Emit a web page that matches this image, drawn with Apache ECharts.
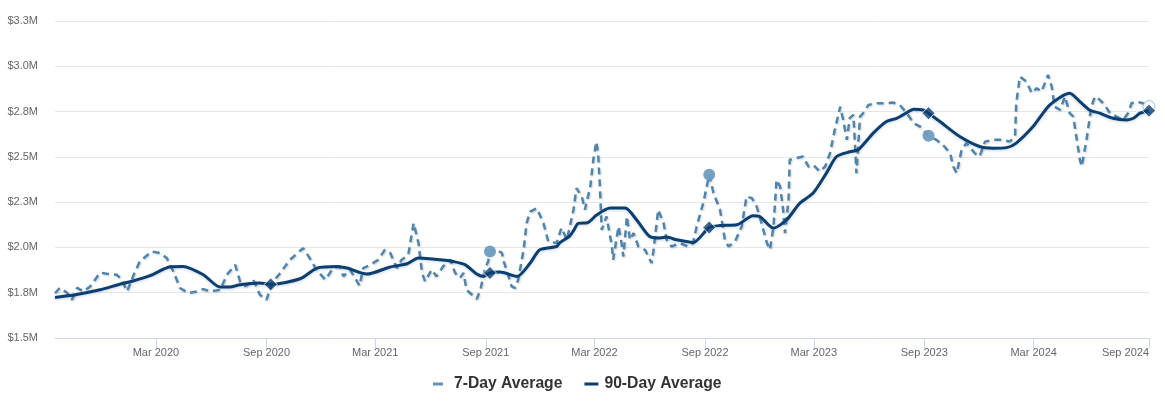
<!DOCTYPE html>
<html><head><meta charset="utf-8">
<script src="https://cdn.jsdelivr.net/npm/echarts@6.0.0/dist/echarts.min.js"></script>
<style>html,body{margin:0;padding:0;background:#fff}#chart{width:1165px;height:406px}</style>
</head><body><div id="chart"></div>
<script>
// 90-Day Average (in $ millions)
const dates90 = ['2019-09-15','2019-10-19','2019-11-29','2019-12-29','2020-01-24','2020-02-20','2020-03-25','2020-04-15','2020-05-19','2020-06-16','2020-07-02','2020-07-19','2020-08-21','2020-09-08','2020-10-27','2020-11-24','2020-12-27','2021-01-13','2021-02-15','2021-03-26','2021-04-23','2021-05-12','2021-06-17','2021-07-09','2021-07-29','2021-08-17','2021-08-28','2021-09-08','2021-09-25','2021-10-23','2021-11-14','2021-11-30','2021-12-28','2022-01-02','2022-01-19','2022-01-26','2022-02-02','2022-02-17','2022-03-05','2022-03-27','2022-04-21','2022-05-10','2022-06-01','2022-06-18','2022-06-29','2022-07-16','2022-08-12','2022-09-08','2022-09-26','2022-10-24','2022-11-20','2022-12-01','2022-12-24','2023-01-15','2023-02-06','2023-02-28','2023-03-22','2023-04-08','2023-04-30','2023-05-14','2023-06-08','2023-06-30','2023-07-17','2023-08-03','2023-08-14','2023-08-30','2023-09-08','2023-09-27','2023-10-30','2023-12-02','2023-12-25','2024-01-16','2024-02-01','2024-02-29','2024-03-28','2024-04-30','2024-05-17','2024-06-02','2024-06-19','2024-07-11','2024-08-03','2024-08-14','2024-08-25','2024-09-09'];
const values90 = [1.724,1.739,1.766,1.794,1.816,1.844,1.893,1.895,1.849,1.781,1.781,1.794,1.803,1.796,1.827,1.886,1.895,1.886,1.853,1.892,1.910,1.941,1.932,1.922,1.904,1.853,1.840,1.859,1.864,1.840,1.914,1.987,2.005,2.025,2.064,2.097,2.133,2.136,2.180,2.217,2.217,2.153,2.060,2.052,2.057,2.042,2.027,2.110,2.121,2.125,2.175,2.171,2.107,2.153,2.245,2.300,2.410,2.502,2.528,2.539,2.631,2.695,2.713,2.744,2.763,2.759,2.741,2.695,2.612,2.557,2.548,2.551,2.576,2.667,2.787,2.851,2.805,2.759,2.741,2.713,2.704,2.713,2.741,2.755];

// 7-Day Average (in $ millions)
const dates7 = ['2019-09-15','2019-09-23','2019-10-05','2019-10-13','2019-10-22','2019-11-01','2019-11-12','2019-11-29','2019-12-10','2019-12-27','2020-01-04','2020-01-13','2020-01-24','2020-02-03','2020-02-23','2020-03-08','2020-03-19','2020-03-30','2020-04-10','2020-04-24','2020-05-08','2020-05-19','2020-05-30','2020-06-16','2020-06-27','2020-07-11','2020-07-19','2020-07-28','2020-08-10','2020-08-21','2020-09-01','2020-09-10','2020-09-24','2020-10-10','2020-11-01','2020-11-12','2020-11-23','2020-12-08','2020-12-21','2021-01-01','2021-01-07','2021-01-18','2021-02-03','2021-02-09','2021-02-21','2021-03-06','2021-03-17','2021-03-26','2021-04-06','2021-04-14','2021-04-25','2021-05-04','2021-05-12','2021-05-18','2021-05-23','2021-06-03','2021-06-11','2021-06-22','2021-07-04','2021-07-12','2021-07-20','2021-07-26','2021-07-31','2021-08-09','2021-08-17','2021-08-23','2021-08-31','2021-09-05','2021-09-08','2021-09-19','2021-09-28','2021-10-01','2021-10-09','2021-10-14','2021-10-20','2021-10-25','2021-11-03','2021-11-08','2021-11-14','2021-11-25','2021-12-06','2021-12-14','2021-12-28','2022-01-05','2022-01-14','2022-01-25','2022-01-30','2022-02-08','2022-02-13','2022-02-22','2022-02-27','2022-03-04','2022-03-07','2022-03-10','2022-03-13','2022-03-21','2022-03-30','2022-04-01','2022-04-10','2022-04-15','2022-04-18','2022-04-24','2022-04-29','2022-05-05','2022-05-13','2022-05-24','2022-06-04','2022-06-07','2022-06-15','2022-06-24','2022-06-29','2022-07-07','2022-07-21','2022-08-04','2022-08-12','2022-08-18','2022-08-29','2022-09-08','2022-09-15','2022-09-26','2022-10-04','2022-10-10','2022-10-21','2022-11-01','2022-11-09','2022-11-18','2022-11-26','2022-12-04','2022-12-13','2022-12-18','2022-12-24','2022-12-29','2023-01-04','2023-01-09','2023-01-12','2023-01-18','2023-01-20','2023-01-31','2023-02-11','2023-02-20','2023-02-28','2023-03-11','2023-03-20','2023-03-28','2023-04-05','2023-04-14','2023-04-19','2023-04-25','2023-04-30','2023-05-06','2023-05-11','2023-05-17','2023-05-22','2023-05-31','2023-06-14','2023-06-30','2023-07-11','2023-07-22','2023-08-03','2023-08-14','2023-08-25','2023-09-08','2023-09-21','2023-10-02','2023-10-14','2023-10-19','2023-10-25','2023-11-02','2023-11-10','2023-11-24','2023-12-02','2023-12-11','2023-12-25','2024-01-10','2024-01-21','2024-01-30','2024-02-01','2024-02-07','2024-02-18','2024-02-27','2024-03-06','2024-03-14','2024-03-25','2024-03-31','2024-04-05','2024-04-14','2024-04-22','2024-04-30','2024-05-06','2024-05-11','2024-05-17','2024-05-20','2024-05-28','2024-06-05','2024-06-11','2024-06-19','2024-06-27','2024-07-06','2024-07-17','2024-07-28','2024-08-05','2024-08-11','2024-08-19','2024-08-30','2024-09-09'];
const values7 = [1.747,1.777,1.750,1.711,1.777,1.757,1.783,1.860,1.855,1.849,1.822,1.757,1.849,1.922,1.978,1.969,1.941,1.867,1.776,1.748,1.757,1.770,1.757,1.766,1.849,1.904,1.812,1.785,1.822,1.739,1.711,1.803,1.859,1.932,1.996,1.941,1.877,1.822,1.886,1.895,1.840,1.877,1.788,1.886,1.904,1.932,1.987,1.969,1.886,1.932,1.959,2.134,2.024,1.859,1.812,1.877,1.840,1.895,1.932,1.859,1.831,1.859,1.766,1.739,1.715,1.766,1.886,1.922,1.978,1.987,1.969,1.922,1.840,1.785,1.776,1.822,1.987,2.134,2.198,2.217,2.134,2.033,2.024,2.108,2.042,2.208,2.327,2.281,2.208,2.336,2.483,2.584,2.520,2.336,2.097,2.171,2.005,1.932,2.116,2.024,1.950,2.171,2.042,2.079,2.005,1.987,1.914,1.978,2.208,2.134,2.042,2.005,2.024,2.005,2.024,2.116,2.245,2.401,2.300,2.208,2.042,2.005,2.033,2.116,2.281,2.272,2.226,2.134,2.024,1.987,2.116,2.373,2.336,2.208,2.079,2.263,2.484,2.493,2.502,2.447,2.456,2.419,2.447,2.520,2.649,2.777,2.704,2.594,2.715,2.732,2.410,2.722,2.741,2.787,2.796,2.796,2.800,2.787,2.741,2.686,2.667,2.616,2.594,2.566,2.520,2.447,2.410,2.539,2.576,2.520,2.502,2.584,2.594,2.594,2.584,2.612,2.796,2.943,2.915,2.851,2.879,2.860,2.952,2.888,2.777,2.759,2.833,2.741,2.722,2.612,2.483,2.447,2.594,2.777,2.833,2.815,2.787,2.741,2.722,2.704,2.741,2.796,2.805,2.796,2.777];

// highlighted points
const diamondDates = ['2020-09-08','2021-09-08','2022-09-08','2023-09-08','2024-09-09'];
const circleDates = ['2021-09-08','2022-09-08','2023-09-08'];
const lastCircleDate = '2024-09-09';

// axes
const xMinDate = '2019-09-15';
const xMaxDate = '2024-09-09';
const xTickDates = ['2020-03-01','2020-09-01','2021-03-01','2021-09-01','2022-03-01','2022-09-01','2023-03-01','2023-09-01','2024-03-01','2024-09-09'];
const xTickLabels = ['Mar 2020','Sep 2020','Mar 2021','Sep 2021','Mar 2022','Sep 2022','Mar 2023','Sep 2023','Mar 2024','Sep 2024'];
const yMin = 1.5, yMax = 3.25, yStep = 0.25;
const yTickLabels = ['$1.5M','$1.8M','$2.0M','$2.3M','$2.5M','$2.8M','$3.0M','$3.3M'];

function ts(s){const p=s.split('-').map(Number);return Date.UTC(p[0],p[1]-1,p[2]);}
const xTickVals = xTickDates.map(ts);
const pts = (ds, vs) => ds.map((d,i)=>[ts(d), vs[i]]);
const pick = (list, ds, vs) => list.map(d=>[ts(d), vs[ds.indexOf(d)]]);

const FONT = "'Liberation Sans', Arial, sans-serif";
const C7 = '#4f85ad', C90 = '#0c3f70', CIRC = '#6f9cc0';
// legend glyphs: short dash for the 7-day, longer bar for the 90-day (16x3 box)
const ICON7 = 'path://M0,0h0.05v0.05h-0.05z M16,3h-0.05v-0.05h0.05z M0,0h10v3h-10z';
const ICON90 = 'path://M0,0h0.05v0.05h-0.05z M16,3h-0.05v-0.05h0.05z M1,0h14v3h-14z';

const chart = echarts.init(document.getElementById('chart'), null, {renderer:'canvas'});
chart.setOption({
  animation:false,
  backgroundColor:'#ffffff',
  grid:{left:55, right:16, top:21, bottom:68, containLabel:false},
  legend:{
    data:[{name:'7-Day Average', icon:ICON7, itemStyle:{color:'#6294ba'}},{name:'90-Day Average', icon:ICON90}],
    left:428, top:371, itemGap:21, itemWidth:16, itemHeight:3,
    textStyle:{fontFamily:FONT, fontSize:15.7, fontWeight:'bold', color:'#333333'}
  },
  xAxis:{
    type:'value', min:ts(xMinDate), max:ts(xMaxDate), scale:true,
    axisLine:{show:true, lineStyle:{color:'#ccd6eb', width:1}},
    axisTick:{show:true, length:10, lineStyle:{color:'#ccd6eb'}, customValues:xTickVals},
    axisLabel:{
      customValues:xTickVals,
      formatter:(v)=>{let k=0,b=Infinity;xTickVals.forEach((t,i)=>{const dd=Math.abs(t-v);if(dd<b){b=dd;k=i;}});return xTickLabels[k];},
      color:'#666666', fontSize:11, fontFamily:FONT, margin:9, alignMaxLabel:'right'
    },
    splitLine:{show:false}
  },
  yAxis:{
    type:'value', min:yMin, max:yMax, interval:yStep,
    axisLine:{show:false}, axisTick:{show:false},
    axisLabel:{formatter:(v)=>yTickLabels[Math.round((v-yMin)/yStep)], color:'#666666', fontSize:11, fontFamily:FONT, margin:17},
    splitLine:{lineStyle:{color:'#e6e6e6', width:1}}
  },
  series:[
    {name:'7-Day Average', type:'line', data:pts(dates7, values7), symbol:'none', z:2,
     itemStyle:{color:C7},
     lineStyle:{color:C7, width:2.5, type:[7,5], shadowColor:'rgba(0,0,0,0.18)', shadowBlur:2, shadowOffsetX:1, shadowOffsetY:1}},
    {name:'90-Day Average', type:'line', data:pts(dates90, values90), symbol:'none', z:4, smooth:0.25,
     itemStyle:{color:C90},
     lineStyle:{color:C90, width:3, shadowColor:'rgba(40,90,140,0.25)', shadowBlur:3, shadowOffsetY:1}},
    {name:'c7', type:'scatter', data:pick(circleDates, dates7, values7), symbol:'circle', symbolSize:12, z:3,
     itemStyle:{color:CIRC, opacity:0.95}},
    {name:'c7end', type:'scatter', data:pick([lastCircleDate], dates7, values7), symbol:'circle', symbolSize:12, z:3,
     itemStyle:{color:'#ffffff', borderColor:'#8aaecb', borderWidth:1}},
    {name:'d90', type:'scatter', data:pick(diamondDates, dates90, values90), symbol:'diamond', symbolSize:13, z:5,
     itemStyle:{color:C90, borderColor:'#ffffff', borderWidth:1}}
  ]
});
</script></body></html>
